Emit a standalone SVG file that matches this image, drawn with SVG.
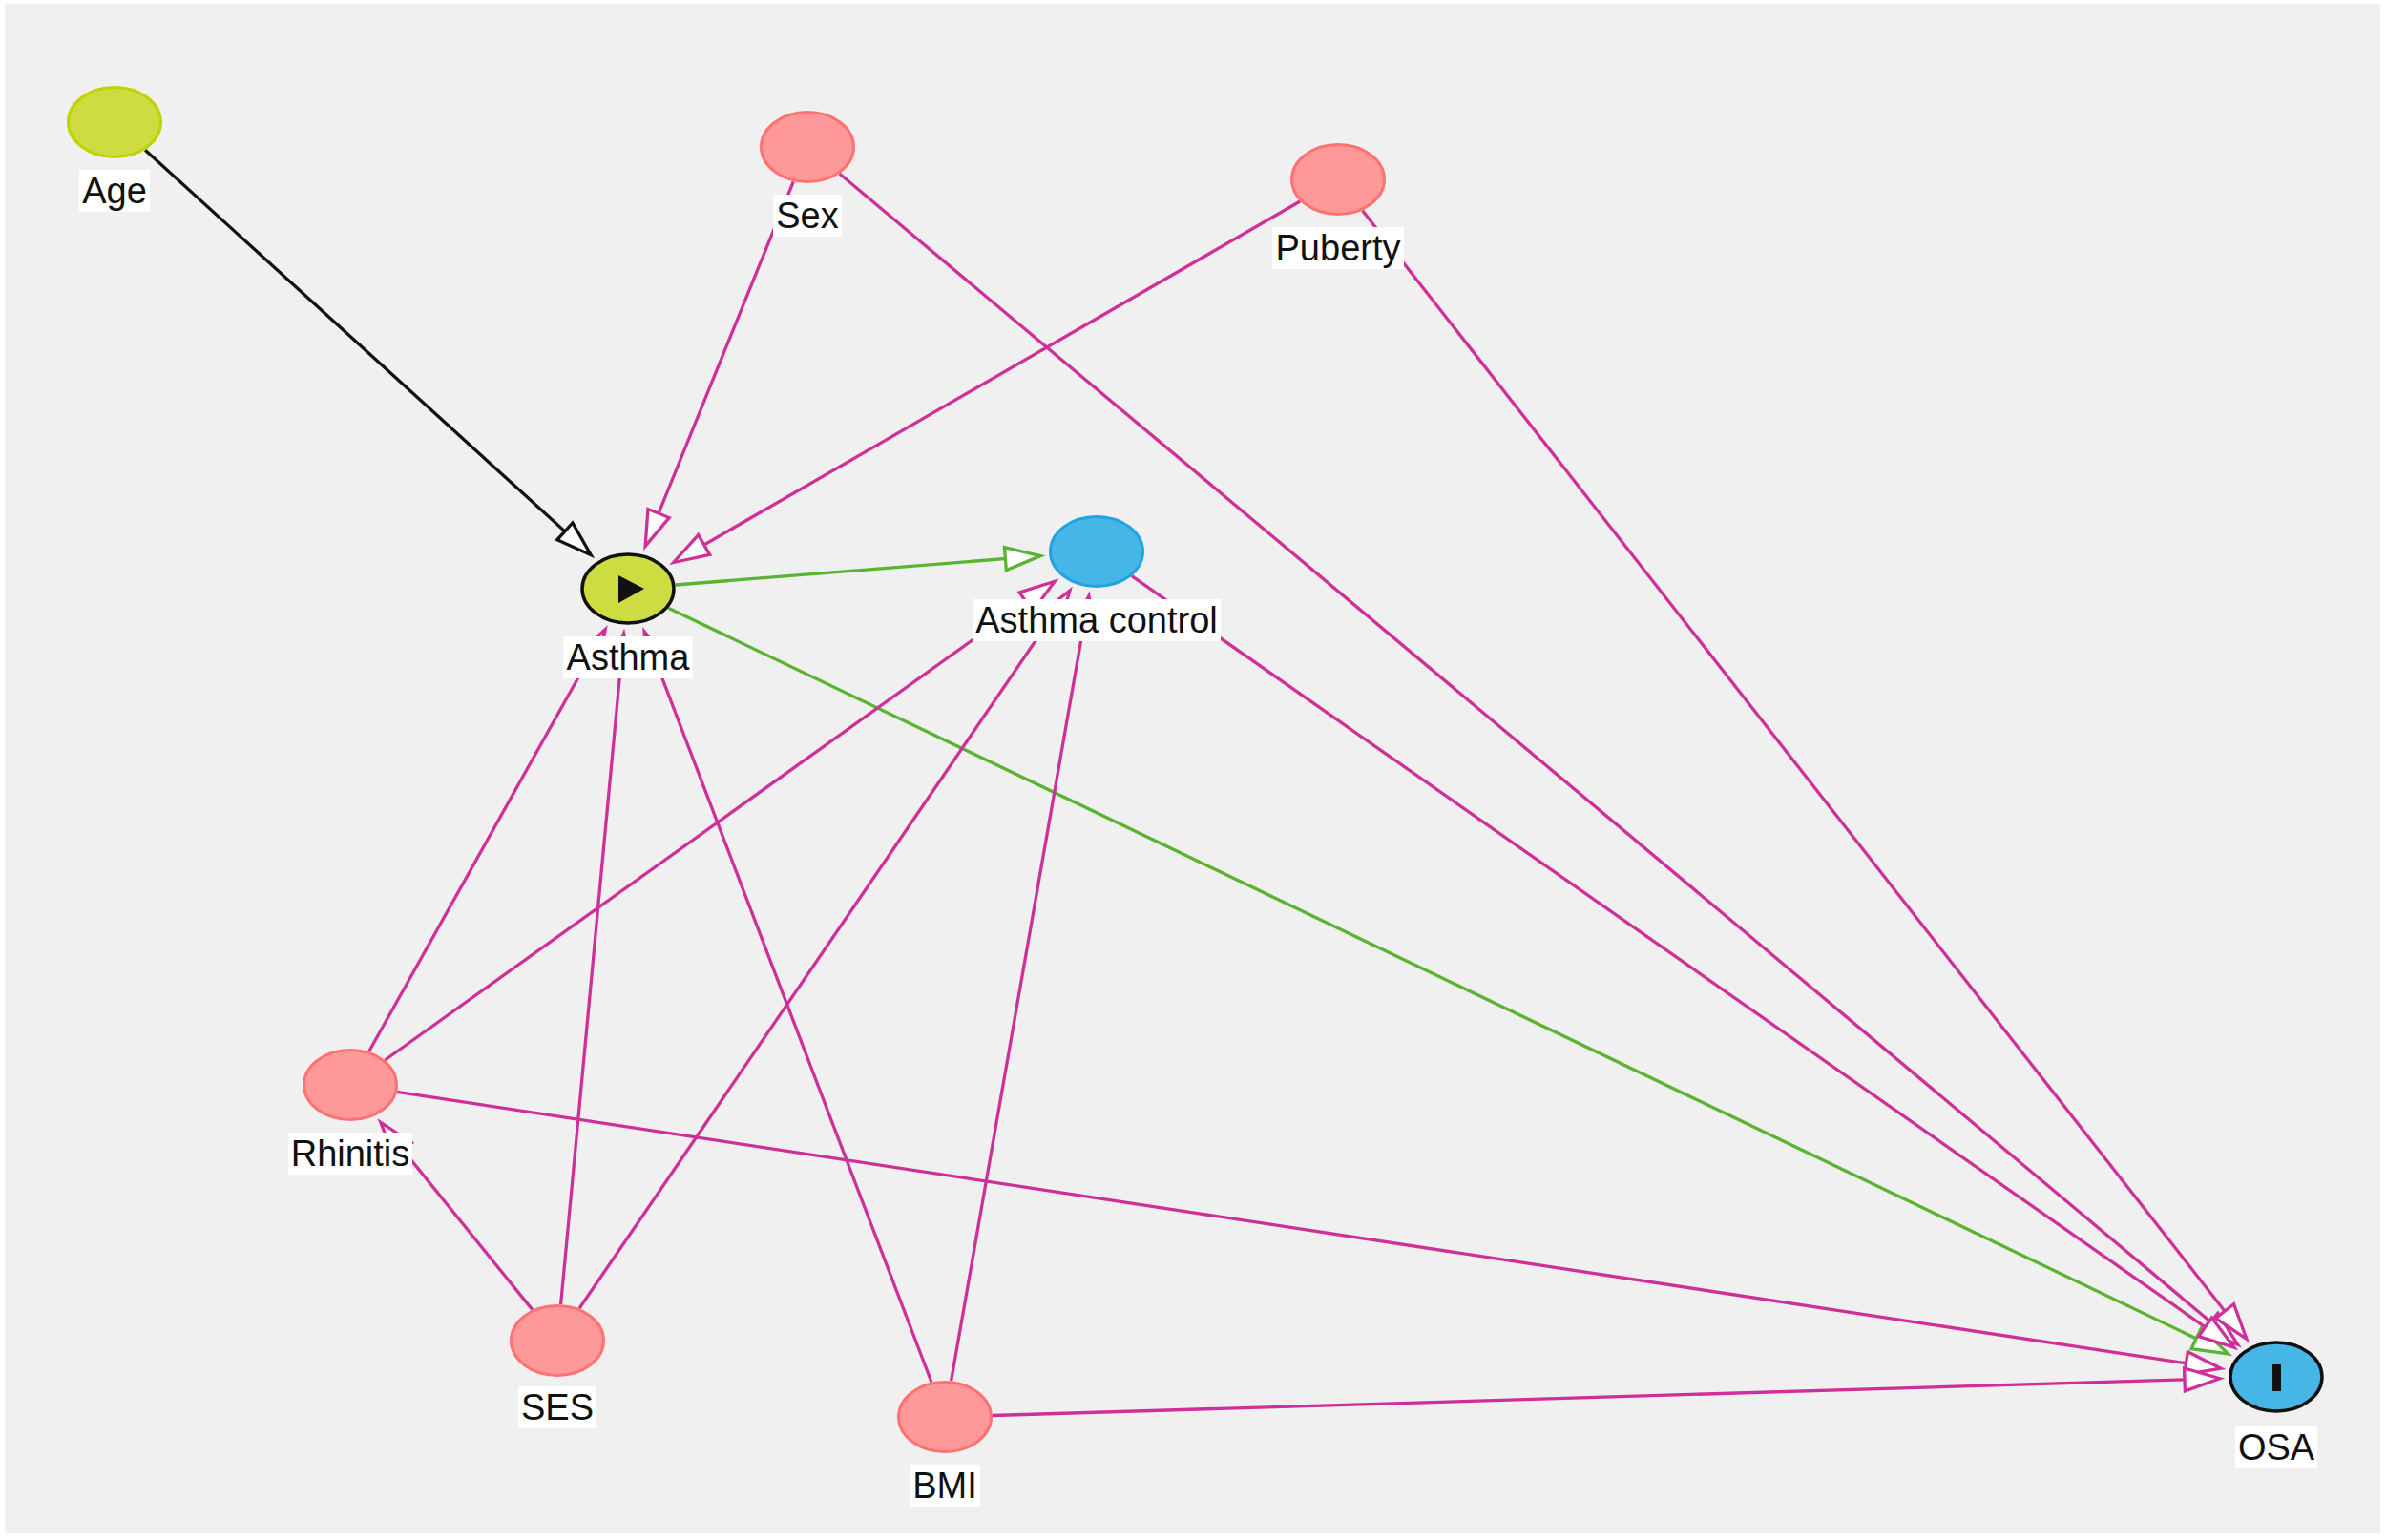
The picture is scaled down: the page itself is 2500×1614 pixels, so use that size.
<svg xmlns="http://www.w3.org/2000/svg" width="2500" height="1614" viewBox="0 0 2500 1614">
<style>
.e{fill:none;stroke-width:3.3}
.bias{stroke:#cf2f98;marker-end:url(#mM)}
.caus{stroke:#5ab432;marker-end:url(#mG)}
.plain{stroke:#111;marker-end:url(#mK)}
.conf{fill:#ff9999;stroke:#ff7272;stroke-width:3}
.anc{fill:#cddc40;stroke:#bfd300;stroke-width:3}
.ancO{fill:#46b6e6;stroke:#22a4e0;stroke-width:3}
.exp{fill:#cddc40;stroke:#111;stroke-width:3.5}
.out{fill:#46b6e6;stroke:#111;stroke-width:3.5}
.lb{fill:#fff}
.t{font-family:"Liberation Sans",Arial,sans-serif;font-size:38px;fill:#111;text-anchor:middle}
</style>
<defs>
<marker id="mM" viewBox="-42 -17 52 34" refX="0" refY="0" markerWidth="52" markerHeight="34" markerUnits="userSpaceOnUse" orient="auto" overflow="visible"><path d="M1,0 L-36,-12 L-36,12 Z" fill="#fff" stroke="#cf2f98" stroke-width="3.3"/></marker>
<marker id="mG" viewBox="-42 -17 52 34" refX="0" refY="0" markerWidth="52" markerHeight="34" markerUnits="userSpaceOnUse" orient="auto" overflow="visible"><path d="M1,0 L-36,-12 L-36,12 Z" fill="#fff" stroke="#5ab432" stroke-width="3.3"/></marker>
<marker id="mK" viewBox="-42 -17 52 34" refX="0" refY="0" markerWidth="52" markerHeight="34" markerUnits="userSpaceOnUse" orient="auto" overflow="visible"><path d="M1,0 L-36,-12 L-36,12 Z" fill="#fff" stroke="#111" stroke-width="3.3"/></marker>
</defs>
<rect x="0" y="0" width="2500" height="1614" fill="#fff"/>
<rect x="5" y="4" width="2489" height="1603" fill="#f0f0f0"/>
<g id="connectors">
<path class="e plain" d="M152.1,157.2 L618.5,581.1"/>
<path class="e bias" d="M831.3,190.3 L676.5,571.4"/>
<path class="e bias" d="M879.6,182.1 L2343.8,1408.5"/>
<path class="e bias" d="M1362.2,211 L706.5,589"/>
<path class="e bias" d="M1427.6,220.7 L2353.3,1402.5"/>
<path class="e caus" d="M707.7,613 L1089.3,582.7"/>
<path class="e caus" d="M700.3,637.2 L2333.7,1418.4"/>
<path class="e bias" d="M1185.8,603.7 L2340,1411.5"/>
<path class="e bias" d="M386.6,1102 L633.6,660.7"/>
<path class="e bias" d="M587.6,1367.1 L653.5,664.9"/>
<path class="e bias" d="M976,1448.5 L675.5,662.8"/>
<path class="e bias" d="M403.4,1111 L1104.4,609.8"/>
<path class="e bias" d="M607,1371.3 L1120.3,620"/>
<path class="e bias" d="M996.6,1447.3 L1140.7,625.5"/>
<path class="e bias" d="M416,1144.4 L2326.1,1434.1"/>
<path class="e bias" d="M1040,1483.5 L2325,1444.8"/>
<path class="e bias" d="M557.8,1372.6 L399.5,1177.1"/>
</g>
<g id="node-age"><ellipse class="anc" cx="120" cy="128" rx="48.5" ry="36.5"/><rect class="lb" x="83" y="178" width="74" height="44"/><text class="t" x="120" y="213">Age</text></g>
<g id="node-sex"><ellipse class="conf" cx="846" cy="154" rx="48.5" ry="36.5"/><rect class="lb" x="810" y="204" width="72" height="44"/><text class="t" x="846" y="239">Sex</text></g>
<g id="node-puberty"><ellipse class="conf" cx="1402" cy="188" rx="48.5" ry="36.5"/><rect class="lb" x="1333" y="238" width="138" height="44"/><text class="t" x="1402" y="273">Puberty</text></g>
<g id="node-asthma"><ellipse class="exp" cx="658" cy="617" rx="48" ry="36"/><path d="M648,603 L648,632 L675,617 Z" fill="#111"/><rect class="lb" x="590.5" y="667" width="135" height="44"/><text class="t" x="658" y="702">Asthma</text></g>
<g id="node-asthma-control"><ellipse class="ancO" cx="1149" cy="578" rx="48.5" ry="36.5"/><rect class="lb" x="1019" y="628" width="260" height="44"/><text class="t" x="1149" y="663">Asthma control</text></g>
<g id="node-rhinitis"><ellipse class="conf" cx="367" cy="1137" rx="48.5" ry="36.5"/><rect class="lb" x="302" y="1187" width="130" height="44"/><text class="t" x="367" y="1222">Rhinitis</text></g>
<g id="node-ses"><ellipse class="conf" cx="584" cy="1405" rx="48.5" ry="36.5"/><rect class="lb" x="543" y="1453" width="82" height="44"/><text class="t" x="584" y="1488">SES</text></g>
<g id="node-bmi"><ellipse class="conf" cx="990" cy="1485" rx="48.5" ry="36.5"/><rect class="lb" x="953" y="1535" width="74" height="44"/><text class="t" x="990" y="1570">BMI</text></g>
<g id="node-osa"><ellipse class="out" cx="2385" cy="1443" rx="48" ry="36"/><rect x="2381" y="1430" width="9" height="28" fill="#111"/><rect class="lb" x="2342" y="1495" width="86" height="44"/><text class="t" x="2385" y="1530">OSA</text></g>
</svg>
